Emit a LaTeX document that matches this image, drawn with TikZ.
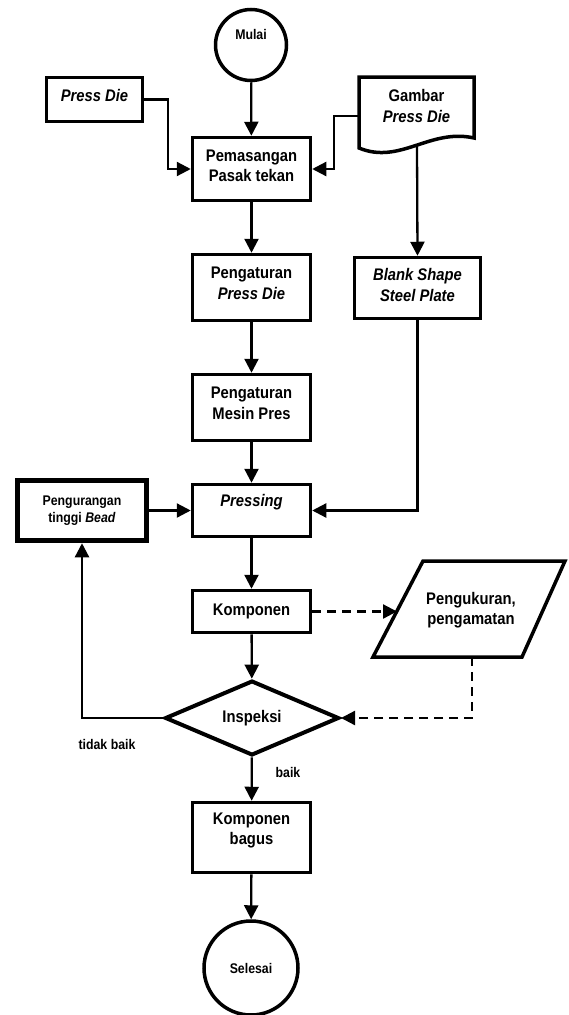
\documentclass[tikz,border=0pt]{standalone}
\usepackage{fontspec}
\setmainfont{Liberation Sans}[FakeStretch=0.88]
\usetikzlibrary{arrows.meta,shapes.geometric}
\begin{document}
\begin{tikzpicture}[x=1pt,y=-1pt,
  every node/.style={font=\bfseries\fontsize{16.8}{20.5}\selectfont, align=center, inner sep=0pt},
  smalltxt/.style={font=\bfseries\fontsize{14}{17}\selectfont},
  box/.style={draw, line width=3.5pt, rectangle, minimum width=118pt},
  term/.style={draw, line width=3.5pt, circle, smalltxt},
  conn/.style={line width=2.3pt, -{Triangle[length=14pt,width=14pt]}},
  dconn/.style={conn, dash pattern=on 9pt off 6pt},
  outline/.style={line width=3.5pt, line join=miter}
]
\useasboundingbox (0,0) rectangle (568,1015);

% start / end
\node[term, minimum size=71pt, label={[smalltxt, yshift=11pt]center:Mulai}] (mulai) at (251,45) {};
\node[term, minimum size=94pt] (selesai) at (251,968) {Selesai};

% inputs
\node[box, minimum width=96pt, minimum height=44pt, label={[yshift=4.5pt]center:\textit{Press Die}}] (pressdie) at (94.5,99.5) {};
\draw[outline] (359,77) -- (474,77) -- (474,138) .. controls (430,128) and (400,165) .. (359,148) -- cycle;
\node (gambar) at (416.5,106) {Gambar\\\textit{Press Die}};
\coordinate (gambarW) at (359,116);
\coordinate (gambarS) at (417,146);

% main column
\node[box, minimum height=63pt, label={[yshift=3pt]center:{Pemasangan\\Pasak tekan}}] (pemasangan) at (251.5,169) {};
\node[box, minimum height=66pt, label={[yshift=4pt]center:{Pengaturan\\\textit{Press Die}}}] (pengpd) at (251.5,287.5) {};
\node[box, minimum width=126pt, minimum height=61pt, label={[yshift=3pt]center:{\textit{Blank Shape}\\\textit{Steel Plate}}}] (blank) at (417.5,288) {};
\node[box, minimum height=66pt, label={[yshift=4pt]center:{Pengaturan\\Mesin Pres}}] (mesin) at (251.5,407.5) {};
\node[box, minimum height=52pt, label={[yshift=8.5pt]center:\textit{Pressing}}] (pressing) at (251.5,510.5) {};
\node[box, line width=5.5pt, minimum width=129pt, minimum height=60pt, smalltxt] (kurang) at (82,510.5) {Pengurangan\\tinggi \textit{Bead}};
\node[box, minimum height=42pt] (komponen) at (251.5,611.5) {Komponen};
\node[draw, diamond, line width=4pt, minimum width=174pt, minimum height=66pt] (inspeksi) at (252,718) {Inspeksi};
\node[box, minimum height=70pt, label={[yshift=7pt]center:{Komponen\\bagus}}] (bagus) at (251.5,837.5) {};

% measurement parallelogram
\draw[outline] (423,561) -- (565,561) -- (522,657) -- (373,657) -- cycle;
\node (ukur) at (471,610) {Pengukuran,\\pengamatan};
\coordinate (ukurL) at (397,611.5);
\coordinate (ukurB) at (472,657);

% connectors
\draw[conn] (mulai) -- (pemasangan);
\draw[conn] (pressdie.east) -- ++(24,0) |- (pemasangan.west);
\draw[conn] (gambarW) -- ++(-25,0) |- (pemasangan.east);
\draw[conn] (gambarS) -- (blank.north);
\draw[conn] (pemasangan) -- (pengpd);
\draw[conn] (pengpd) -- (mesin);
\draw[conn] (mesin) -- (pressing);
\draw[conn] (blank.south) |- (pressing.east);
\draw[conn] (kurang.east) -- (pressing.west);
\draw[conn] (pressing) -- (komponen);
\draw[dconn] (komponen.east) -- (ukurL);
\draw[dconn] (ukurB) |- (inspeksi.east);
\draw[conn] (komponen) -- (inspeksi);
\draw[conn] (inspeksi.west) -| (kurang.south);
\draw[conn] (inspeksi) -- (bagus);
\draw[conn] (bagus) -- (selesai);

% labels
\node[smalltxt] (lbltidak) at (107,744) {tidak baik};
\node[smalltxt] (lblbaik) at (288,772) {baik};
\end{tikzpicture}
\end{document}
